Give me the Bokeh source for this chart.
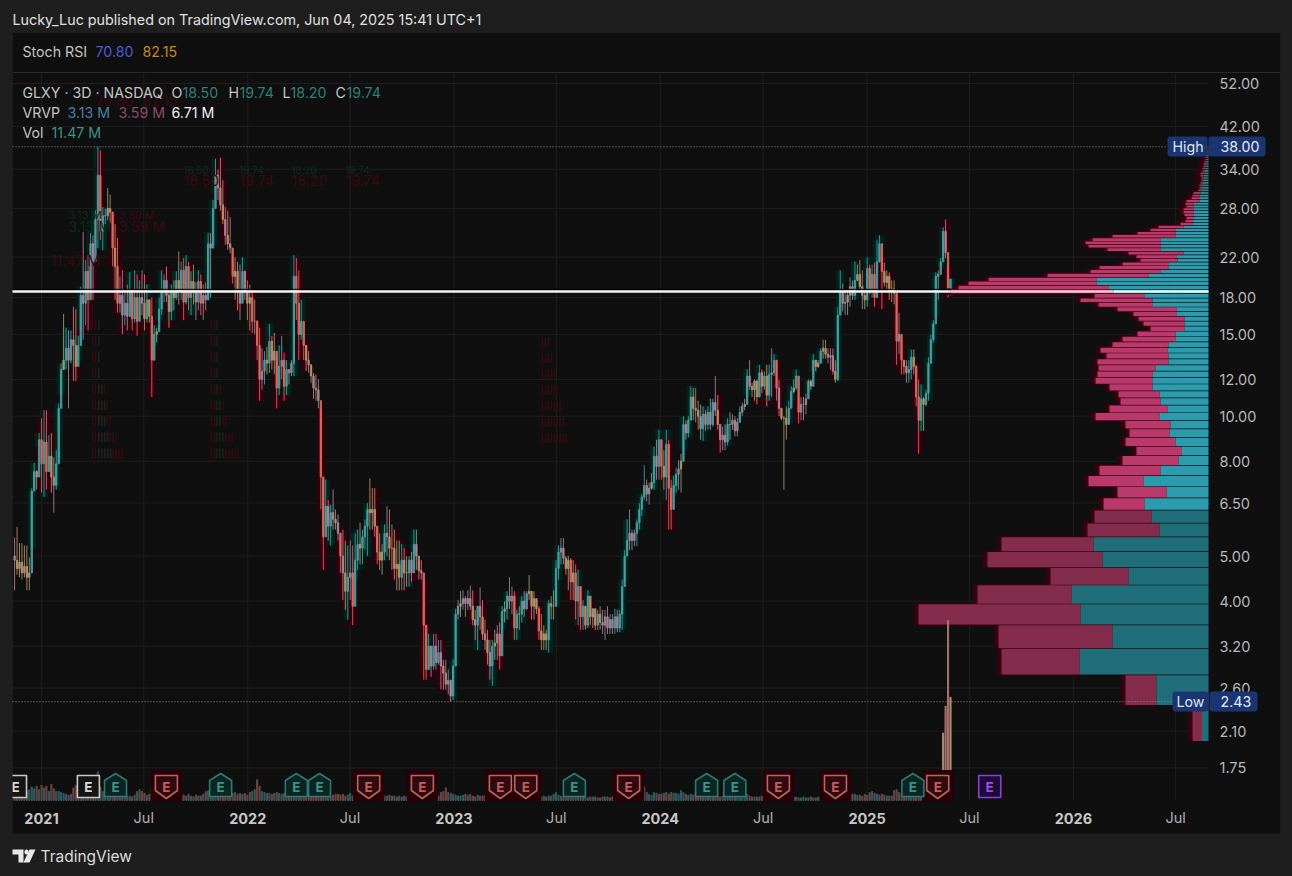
import math
import pandas as pd
from bokeh.plotting import figure
from bokeh.models import (Range1d, LinearScale, LinearAxis, FixedTicker, PrintfTickFormatter, Label,
                          BoxAnnotation, PolyAnnotation, ColumnDataSource)
from bokeh.core.properties import value
from bokeh.embed import file_html
from bokeh.resources import INLINE

FONT = "Inter"
high = [5.48,5.78,5.33,5.33,5.27,5.27,4.97,7.0,7.93,7.65,9.2,9.9,10.3,10.3,9.1,9.2,8.15,8.45,10.65,13.0,
16.6,15.5,15.3,15.3,17.2,17.0,14.9,19.0,24.9,21.7,22.2,24.8,24.5,27.7,38.0,37.3,28.2,28.0,31.0,30.0,
27.4,25.9,24.2,20.0,20.6,18.7,19.2,20.4,18.7,20.6,20.2,19.6,20.6,20.2,19.2,17.8,18.0,15.7,15.5,18.0,
20.6,20.2,21,18.7,19.2,19.6,20.5,22.6,21.5,21.9,22.2,21.5,20.5,21.2,19.4,20.6,20.2,19.2,19.4,24.8,
24.8,29.2,35.8,34,36,32.2,28.2,27.7,26.8,22.2,22,21.5,21.2,22,20.6,19.6,19.2,18.7,17.8,16.1,
15.5,14.0,13.8,14.1,15.8,14.9,15.1,13.4,14.2,14.9,13.7,13.2,12.4,13.2,22.2,21.9,20.6,17.8,14.6,14.2,
13.8,12.9,12.4,12.3,12,10.4,7.3,7.3,6.6,6.45,6.95,6.3,6.15,5.5,5.7,5.4,5.27,5.4,5.27,5.6,
5.7,5.9,5.7,6,6.5,7.35,7,7,5.7,5.6,5.3,5.85,6.4,6.3,5.85,5.7,5.4,5.4,5.3,5.2,
5,5,5.1,5.7,5.7,4.9,4.9,4.45,3.55,3.4,3.1,3.4,3.4,3.3,3.3,2.99,2.99,2.85,2.71,3,
3.85,4.02,4.2,4.22,4.1,4.22,4.32,4.22,3.83,3.9,4.28,4.02,3.65,3.47,3.3,3.3,3.47,3.55,3.6,3.9,
4,4.2,4.5,4.3,4.2,3.83,3.9,4.1,4.2,4.2,4.55,4.2,4.2,4.02,3.9,3.75,3.55,3.47,4.02,4.1,
4.22,4.9,5.27,5.47,5.47,5,5,4.95,4.9,4.8,4.67,4.22,4.02,3.83,4.22,4.02,3.75,3.8,3.83,3.9,
3.83,3.83,3.9,3.75,3.75,3.85,3.83,3.83,4.45,5.15,6,6.3,5.7,5.7,6,6.5,6.8,7.85,7.3,7.2,
7.55,8.6,8.9,9.35,8.6,8.45,9.35,8.9,7.3,7.45,7.75,8.05,8.3,10,9.8,10,11.6,11.5,11.5,10.8,
10.6,10.5,10.3,10.5,10.9,10.9,12.2,11.1,9.4,9.5,9.6,9.9,10.2,10.1,10,9.9,10.5,10.7,10.9,12.6,
13.2,11.8,12,12,12.9,12.6,12.5,12.9,12.9,14,13.6,13.2,12,10,10,10.5,10.8,11.6,12,12.6,
11,11,11,11.2,12,12,13.6,13.2,13.2,14,14.6,14.6,14,14,14,13.2,17.2,20.6,19.3,18.7,
18.7,19.9,19.6,21.5,21.2,21.7,20.6,18.7,22,21.2,21.2,21.4,23.9,24.5,22.4,21.4,20.6,20.4,19.6,19.6,
18.3,16.7,14.6,13.2,13.2,13.2,13.9,13.9,12.9,12,11.7,11,11.4,13.4,15,16.1,20.4,20.6,21.9,25.5,
26.5,20.9,19.74]
low = [4.22,4.56,4.5,4.45,4.5,4.22,4.22,5.22,7.05,6.95,8.6,6.85,6.7,6.95,7.65,6.85,6.2,6.95,7.95,11.1,
12.6,12.6,10.4,13.0,11.9,11.9,13.2,15.3,14.6,15.7,15.3,19.3,17.8,23.0,23.0,23.9,22.8,25.9,26.4,26.0,
21.0,17.8,16.7,16.7,15.0,15.7,15.3,16.9,15.3,15.9,14.9,16.1,16.5,15.3,15.9,15.9,11.0,14.2,14.4,16.1,
16.5,17.6,17.6,15.5,16.1,16.9,17.8,17.4,17.8,16.1,17.4,16.9,16.5,17.4,16.1,16.9,16.5,16.1,16.9,17.8,
18,23.4,30,29.2,27.7,25.9,23.4,22.8,22.4,19.3,17.8,16.9,16.1,17.8,17.8,16.1,15.3,15.1,15,13.2,
10.8,11.4,11.7,12.3,12.4,12.6,12.3,10.4,11.1,12.0,10.8,11.1,11.7,12.2,12.2,16.1,13.2,14.6,13.2,12.5,
12.4,11.8,10.9,10.8,10.4,6.3,4.67,5.7,5.4,5.27,5.7,5.7,5.4,4.6,4.02,3.83,3.65,4.02,3.55,4.45,
4.67,4.8,4.8,5.15,5,5.7,5.7,5.5,4.8,4.67,4.56,4.9,5,4.9,4.67,4.45,4.22,4.22,4.22,4.22,
4.3,4.3,4.4,4.67,4.67,4.45,4.45,2.71,2.71,2.85,2.75,2.85,2.85,2.92,2.58,2.58,2.58,2.52,2.43,2.45,
2.92,3.65,3.7,3.83,3.7,3.83,3.83,3.55,3.3,3.14,3.47,3.3,3.14,2.92,2.71,2.63,2.99,2.99,2.85,3.47,
3.6,3.65,3.85,3.75,3.3,3.3,3.47,3.6,3.7,3.83,4.02,3.65,3.65,3.75,3.3,3.14,3.14,3.14,3.1,3.65,
3.65,3.9,4.45,4.8,4.8,4.56,4.22,4.02,4.02,3.65,3.55,3.47,3.47,3.47,3.5,3.55,3.5,3.47,3.47,3.47,
3.4,3.3,3.4,3.4,3.4,3.4,3.43,3.43,3.47,4.4,5.15,5.15,5.15,5.25,5.25,5.7,6.1,6.6,6.55,6.45,
6.95,6.95,7.3,7.3,7.3,6.95,6.6,5.7,5.7,6.8,6.85,6.95,6.85,8.45,8.9,9,10,9.8,9.7,9.35,
8.9,8.85,9.3,9.35,9.35,9.5,10,9.35,8.35,8.45,8.45,8.65,8.9,9.35,9.05,9.05,9.8,10,10.3,11.1,
11.4,11,10.8,10.6,11,11.2,11.4,10.5,10.8,11,12.2,10.8,10,9.8,6.95,8.9,9.65,10.8,11.2,11.4,
9.65,9.8,9.8,10.1,11.3,11.4,12.4,12.5,12.7,13,13.3,13.3,13,12.6,12.3,11.8,11.9,17.2,16.8,16.5,
16.5,17.2,17.8,17.8,19.6,18.7,17,17,17.2,18.3,18,17.2,19.6,21.4,17,19,18.7,17.8,17.6,17.4,
12.9,13.6,12.3,12.3,11.8,11.8,12,12.3,10.5,8.3,9.3,9.3,10.5,10.8,13,14.4,16.3,17.8,21,21.8,
21.9,18.0,18.2]
close = [4.9,4.7,4.85,4.6,4.75,4.5,4.6,6.9,7.6,7.4,8.9,7.9,8.8,7.6,8.2,7.4,7.1,7.9,10.4,12.6,
13.2,14.0,13.2,14.6,14.2,12.8,14.2,18.2,17.5,20.5,17.8,23.5,21.5,26.5,33.0,25.0,27.0,27.0,28.0,27.5,
23,21,17.5,18.2,16.5,17.5,16.4,18.7,16.2,18.0,16.0,18.0,17.5,16.2,17.8,16.4,13.2,15.0,15.2,17.0,
18.5,19.6,18.2,16.8,18.6,18.0,19.6,18.5,20.6,17.6,21.0,18.0,19.5,18.6,17.6,19.5,17.5,18.2,17.8,23.5,
23,28,33,31,28.5,26.5,24.5,23.5,23,20,20.5,18.5,17.5,20.5,18.5,17.5,18,16,16,14.2,
12,12.5,13.2,13,14.5,13.2,13.8,11.5,12.8,13.2,11.6,12.6,12.4,13,20,17.5,15,16,14.2,13.2,
12.9,12.2,11.5,11.4,10.8,7.4,5.5,6.4,5.8,6.2,6.0,5.9,5.6,5.0,4.6,4.2,4.5,4.6,3.9,4.9,
5.3,5.2,5.5,5.8,6.3,6.2,6.3,5.8,5.1,4.9,5.1,5.6,5.5,5.2,5.2,4.7,4.8,4.5,4.9,4.6,
4.6,4.9,4.6,5.3,5,4.65,4.6,3.55,2.85,3.2,2.9,3.2,2.95,3.1,2.9,2.8,2.65,2.7,2.5,2.9,
3.75,3.9,3.95,4.05,3.95,4.05,3.9,3.65,3.55,3.9,3.7,3.4,3.3,3.1,2.9,3.2,3.25,3.4,3.05,3.8,
3.85,4.1,4.0,4.1,3.5,3.75,3.75,4.0,3.85,4.15,4.2,3.9,4.05,3.85,3.45,3.3,3.4,3.3,3.95,3.9,
3.9,4.7,5.1,5.2,4.95,4.7,4.9,4.4,4.6,4.0,4.3,3.7,3.9,3.55,4.1,3.7,3.85,3.55,3.75,3.6,
3.55,3.7,3.5,3.65,3.5,3.7,3.5,3.75,4.3,5.0,5.4,5.6,5.4,5.6,5.9,6.3,6.7,7.1,6.8,7.0,
7.2,8.2,7.8,8.9,7.8,7.4,8.7,7.0,6.3,7.1,7.5,7.7,8.0,9.6,9.2,9.8,11,10.4,10.3,10,
9.4,10.1,9.6,10.2,9.6,10.7,10.3,9.6,8.9,9.1,8.8,9.6,9.6,9.8,9.3,9.7,10.2,10.5,10.6,12.2,
11.6,11.4,11.9,11,12.4,11.6,12.2,11.1,12.3,12.4,13.2,11.5,10.4,9.9,9.9,9.6,10.4,11.3,11.5,12.2,
10.2,10.6,10.6,10.9,11.9,11.6,13.2,12.8,13,13.8,14,13.6,13.4,13.5,12.5,12.0,16.5,18.5,17.5,17.6,
18.2,19,18.2,19.6,20.2,19,18.2,17.8,20.8,18.6,20.2,18,21.5,23.5,20.5,19.4,20,18.6,18.8,18.4,
14.5,15,13.2,12.8,12.4,12.6,13.4,12.8,11,9.8,10.9,10.6,11.2,13,14.6,15.8,20,20.2,21.5,25,
22.5,18.5,19.74]
volume = [.6,.7,.6,.5,.8,1.0,1.2,1.5,1.3,1.6,1.2,1.7,1.4,1.6,1.0,1.8,1.3,1.0,1.0,0.9,
.8,.7,.6,.7,1.4,1.7,1.3,1.1,1.7,1.6,1.5,1.3,1.0,1.2,3.2,1.5,1.0,.9,.8,.6,
.8,.7,.6,.6,.7,.6,.5,.5,.4,.6,1.0,1.2,1.0,.8,.6,.7,1.3,.9,.7,.9,
1.0,.6,.5,.7,.6,.5,.5,.4,.4,.6,.5,.7,.5,.4,.6,.5,.5,.7,1.0,1.1,
1.2,.8,1.0,1.4,1.3,1.2,1.0,.9,.8,.8,.9,.7,.8,.7,.8,.6,.9,1.0,1.2,2.3,
1.6,1.0,.9,.8,.8,.7,.8,.9,.8,.7,.8,.8,.6,.8,.7,1.0,.8,.7,.6,.6,
.8,.6,.6,.7,.8,1.6,.9,.8,.6,.5,.6,.7,.7,.6,.7,.5,.6,.8,.5,.6,
.4,.5,.5,.4,.5,.4,.5,.8,.5,.5,.4,.5,.5,.6,.5,.5,.4,.5,.4,.5,
.4,.5,.4,.5,.6,.5,.5,.9,.7,.6,.5,.5,.6,.5,.9,1.0,1.4,.9,.8,.7,
.6,.5,.5,.6,.7,.6,.7,.5,.4,.6,.5,.5,.6,.5,.4,.5,.5,.4,.5,.6,
.5,.4,.5,.4,.5,.4,.4,.4,.5,.4,.6,.4,.4,.4,.5,.4,.5,.4,.5,.5,
.7,.9,.6,.5,.4,.4,.5,.4,.4,.5,.4,.4,.4,.4,.3,.4,.4,.4,.3,.3,
.4,.4,.4,.3,.4,.3,.4,.8,.7,.9,.6,.5,.4,.5,.4,.5,.5,1.5,.9,.7,
.6,.9,.8,.7,.7,.8,.9,.7,.9,.8,.8,.7,1.1,.9,.7,.6,.7,.6,.8,.8,
.7,.6,.6,.7,.7,.5,.6,.5,.4,.5,.4,.5,.4,.5,.4,.5,.4,.5,.5,.7,
.5,.4,.4,.4,.4,.5,.5,.4,.4,.5,.4,.4,.5,.5,.7,.5,.4,.4,.4,.4,
.3,.3,.4,.3,.3,.4,.3,.3,.4,.3,.4,.3,.4,.4,.4,.5,.9,.9,.8,.7,
.8,.8,.7,.7,.6,.6,.5,.7,.6,.9,1.0,.8,.7,.6,.7,.6,.5,.5,.5,1.1,
1.2,.9,.7,1.0,.6,.5,.6,.4,.5,.5,.7,.5,.4,.5,.4,.5,.6,.7,2.0,7.5,
10.5,20.0,11.47]
vp_up = [6.5,52,129,96,128,137,80,106,115,49,57,64,42,65,48,30,27,33,39,38,49,41,48,49,56,56,56,53,40,40,41,40,33,33,24,24,24,32,32,56,56,64,95,100,112,112,60,48,40,40,31,32,25,48,48,48,48,33,33,33,25,16,16,15,15,15,15,15,15,9,9,9,8,8,7,7,6,6,5,5,4,4,3,2,2,2,2,1,1,1,1,1,1]
vp_total = [16,83,207,210,290,231,158,221,207,121,114,105,91,120,109,86,72,83,79,83,113,99,88,90,99,113,111,110,111,102,108,96,86,71,58,65,70,75,91,110,128,114,258,250,240,220,161,118,109,86,68,72,80,101,120,123,116,96,71,58,50,28,23,22,24,25,25,22,23,22,17,16,15,10,9,9,8,7,7,8,8,6,6,5,5,4,3,3,2,2,2,1,1]
vp_first_price = 2.0
vp_step = 0.39
x_labels_jul = ["2021-07-01","2022-07-01","2023-07-01","2024-07-01","2025-07-01","2026-07-01"]
x_labels_year = ["2021-01-01","2022-01-01","2023-01-01","2024-01-01","2025-01-01","2026-01-01"]
y_ticks = [52,42,34,28,22,18,15,12,10,8,6.5,5,4,3.2,2.6,2.1,1.75]
earn_dates = ["2020-11-16","2021-03-25","2021-05-12","2021-08-10","2021-11-14","2022-03-28","2022-05-08","2022-08-03","2022-11-06","2023-03-24","2023-05-08","2023-08-02","2023-11-06","2024-03-23","2024-05-12","2024-07-28","2024-11-06","2025-03-23","2025-05-06","2025-08-06"]
earn_kind = ["w","w","u","d","u","u","u","d","d","d","d","u","d","u","u","d","d","u","d","p"]

BG, PANE, EDGE = "#1e1e1e", "#0f0f0f", "#2a2a2a"
KY = 201.8
MPP = 365.25 * 86400000 / 206.4
T0 = pd.Timestamp("2021-01-01").value / 1e6
def ms(s): return pd.Timestamp(s).value / 1e6
def X(px): return T0 + (px - 41) * MPP
def Y(py): return 52 * math.exp(-(py - 83) / KY)
def V(py): return (800 - py) / 9

p = figure(width=1292, height=876, output_backend="svg", toolbar_location=None,
           x_range=Range1d(X(0), X(1292)), y_range=Range1d(Y(876), Y(0)),
           y_axis_type="log", y_axis_location="right",
           min_border=0, background_fill_color=BG, border_fill_color=BG, outline_line_color=None)
p.extra_y_ranges = {"vol": Range1d(V(876), V(0))}
p.extra_y_scales = {"vol": LinearScale()}
p.extra_x_ranges = {"vp": Range1d(1208, -84)}
p.xgrid[0].visible = False; p.ygrid[0].visible = False

p.add_layout(BoxAnnotation(left=X(12), right=X(1280), top=Y(32), bottom=Y(833.5), fill_color=PANE, fill_alpha=1,
                           line_color=EDGE, line_width=1, level="image"))
p.add_layout(BoxAnnotation(left=X(12), right=X(1280), top=Y(71.6), bottom=Y(72.6), fill_color=EDGE, fill_alpha=1,
                           line_alpha=0, level="image"))

# axes, fixed on the edges of the price pane
yax = p.yaxis[0]
yax.fixed_location = X(1208)
yax.ticker = FixedTicker(ticks=y_ticks)
yax.formatter = PrintfTickFormatter(format="%.2f")
yax.axis_line_color = None; yax.major_tick_line_color = None; yax.minor_tick_line_color = None
yax.major_label_text_color = "#b8b8b8"; yax.major_label_text_font = FONT
yax.major_label_text_font_size = "14.5px"; yax.major_label_standoff = 5
xax = p.xaxis[0]
jul = [ms(d) for d in x_labels_jul]; yrs = [ms(d) for d in x_labels_year]
xax.ticker = FixedTicker(ticks=jul)
xax.major_label_overrides = {t: "Jul" for t in jul}
yax2 = LinearAxis(ticker=FixedTicker(ticks=yrs), major_label_overrides={t: d[:4] for t, d in zip(yrs, x_labels_year)})
p.add_layout(yax2, "below")
for a, bold, off in [(xax, False, 2), (yax2, True, 6)]:
    a.fixed_location = Y(800)
    a.axis_line_color = None; a.major_tick_line_color = None; a.minor_tick_line_color = None
    a.major_label_text_color = "#c8c8c8" if bold else "#b0b0b0"; a.major_label_text_font = FONT
    a.major_label_text_font_size = "14.5px"
    a.major_label_text_font_style = "bold" if bold else "normal"
    a.major_label_standoff = off

# grid lines, limited to the price pane
GRID = "#1e1e1e"
gx = sorted(jul + yrs)
p.segment(gx, [Y(800)] * len(gx), gx, [Y(72)] * len(gx), line_color=GRID, line_width=1)
p.segment([X(12)] * len(y_ticks), y_ticks, [X(1208)] * len(y_ticks), y_ticks, line_color=GRID, line_width=1)

# price bars
N = len(close)
BAR = 2.45 * MPP
last_t = X(950)
xs = [last_t - (N - 1 - i) * BAR for i in range(N)]
opn = [5.0] + close[:-1]
col, halo, vcol = [], [], []
for i, (o, c) in enumerate(zip(opn, close)):
    pct = abs(c - o) / o
    big = volume[i] > 5
    if c >= o:
        col.append("#4a9fa2" if pct > .05 else ("#8f8ca0" if i % 2 else "#98a07f"))
        halo.append("#00241e" if pct > .06 else None)
        vcol.append("#a9906e" if big else "#2f5c62")
    else:
        col.append("#dc6a60" if pct > .1 else ("#c08e62" if i % 2 else "#ad8599"))
        halo.append("#33000e" if pct > .06 else None)
        vcol.append("#a8736a" if big else "#6e4442")
hs = ColumnDataSource(dict(x=[x for x, h in zip(xs, halo) if h], t=[v for v, h in zip(high, halo) if h],
                           b=[v for v, h in zip(low, halo) if h], c=[h for h in halo if h]))
p.vbar(x="x", top="t", bottom="b", width=BAR * 3, color="c", source=hs)
src = ColumnDataSource(dict(x=xs, h=high, l=low, o=opn, c=close, col=col, v=volume, vc=vcol))
p.segment(x0="x", x1="x", y0="l", y1="h", line_color="col", line_width=1, line_alpha=.85, source=src)
p.vbar(x="x", top="o", bottom="c", width=BAR * .55, color="col", alpha=.9, source=src)

# volume profile
b, t = [], []
for k in range(len(vp_up)):
    b.append(vp_first_price + vp_step * k); t.append((vp_first_price + vp_step * (k + 1)) * math.exp(-.7 / KY))
def tone(bb, dim, mid, top):
    return dim if bb < 6.2 else (top if bb > 30 else mid)
p.quad(left=[v + 4 for v in vp_total], right=vp_up, top=[v * 1.004 for v in t], bottom=[v * .996 for v in b],
       x_range_name="vp", color="#38000f")
p.quad(left=vp_total, right=vp_up, top=t, bottom=b, x_range_name="vp", line_width=0,
       color=[tone(q, "#832c4c", "#b93a6a", "#7c4a62") for q in b])
p.quad(left=vp_up, right=[0] * len(vp_up), top=t, bottom=b, x_range_name="vp", line_width=0,
       color=[tone(q, "#1f6e7a", "#2c9bae", "#3f7a85") for q in b])

# volume
p.vbar(x="x", top="v", bottom=0, width=BAR * .45, color="vc", source=src, y_range_name="vol")

# high / low / level lines
for price, right in [(38.0, 1167), (2.43, 1172)]:
    p.line([X(12), X(right)], [price, price], line_color="#8a8a8a", line_width=1, line_dash="1 2")
p.line([X(12), X(950)], [Y(288.8)] * 2, line_color="#000000", line_width=1)
for l, r, c in [(12, 950, "#f4f4f4"), (950, 1113, "#f7c6d8"), (1113, 1208, "#e2fbf4")]:
    p.line([X(l), X(r)], [18.55, 18.55], line_color=c, line_width=2.5)

# earnings markers
SH = {"u": [(-11,796),(-11,780),(0,773),(11,780),(11,796)], "d": [(-11,775),(11,775),(11,790),(0,798),(-11,790)],
      "w": [(-11,775),(11,775),(11,797),(-11,797)], "p": [(-11,775),(11,775),(11,797),(-11,797)]}
ST = {"u": ("#2d7a75","#0a2422","#3b938b"), "d": ("#b5685c","#300a12","#c25f55"),
      "w": ("#c9c9c9","#141414","#d8d8d8"), "p": ("#8c3fe0","#1d0c33","#a24be6")}
ed = [ms(d) for d in earn_dates]
hx = [[t0 + dx * MPP for dx in (-15, 15, 15, -15)] for t0, k in zip(ed, earn_kind) if k == "d"]
hy = [[V(770), V(770), V(800), V(800)] for k in earn_kind if k == "d"]
p.patches(hx, hy, color="#2a0008", y_range_name="vol")
p.patches([[t0 + a * MPP for a, _ in SH[k]] for t0, k in zip(ed, earn_kind)],
          [[V(c) for _, c in SH[k]] for k in earn_kind],
          fill_color=[ST[k][1] for k in earn_kind], line_color=[ST[k][0] for k in earn_kind],
          line_width=1.6, line_join="round", y_range_name="vol")
p.text(ed, [V(786)] * len(ed), text=["E"] * len(ed), text_color=[ST[k][2] for k in earn_kind],
       text_font=value(FONT), text_font_style="bold", text_font_size="13.5px", text_align="center",
       text_baseline="middle", y_range_name="vol")
p.add_layout(BoxAnnotation(left=X(0), right=X(12), top=Y(765), bottom=Y(805), fill_color=BG, fill_alpha=1, line_alpha=0))

def lab(text, px, py, color, size=14.2, bold=False, align="left"):
    p.add_layout(Label(x=X(px), y=Y(py), text=text, text_color=color, text_font=FONT, text_font_size=f"{size}px",
                       text_font_style="bold" if bold else "normal", text_align=align, text_baseline="middle"))

# ghost text
GR, GG = "#3a0a14", "#0a2c20"
for s, px in [("18.50",183),("19.74",239),("18.20",291),("19.74",345)]:
    lab(s, px, 180, GR)
    lab(s, px, 169, GG, 10)
lab("3.13 M", 68, 226, GG); lab("3.59 M", 118, 226, GR); lab("3.13 M", 68, 214, GG, 11); lab("3.59 M", 118, 214, GR, 11)
lab("11.47 M", 50, 260, GR); lab("70.80", 95, 100, GR); lab("82.15", 142, 100, GR)
for r, n in enumerate([1,2,2,3,3,5,6,7,9,11]):
    yy = 308 + 16 * r
    lab("|" * n, 90, yy, GR, 8, True)
    lab("|" * (n // 2), 97, yy, GG, 8, True)
    if r >= 1:
        lab("|" * max(n - 1, 2), 209, yy, GR, 8, True)
        lab("|" * max(n // 3, 1), 215, yy, GG, 8, True)
    if r >= 3:
        lab("|" * r, 540, yy - 15, GR, 8, True)

# legend texts
lab("Lucky_Luc published on TradingView.com, Jun 04, 2025 15:41 UTC+1", 12, 18.5, "#e0e0e0", 14.33)
lab("Stoch RSI", 22, 51, "#c4c4c4"); lab("70.80", 95, 51, "#4a5bd6"); lab("82.15", 142, 51, "#c58a1e")
lab("GLXY · 3D · NASDAQ", 22, 92, "#c4c4c4")
for s, px, s2, px2 in [("O",171,"18.50",182),("H",228,"19.74",239),("L",282,"18.20",290),("C",335,"19.74",346)]:
    lab(s, px, 92, "#c4c4c4"); lab(s2, px2, 92, "#2f7f78")
lab("VRVP", 22, 112, "#c4c4c4"); lab("3.13 M", 67, 112, "#4a7fa3"); lab("3.59 M", 118, 112, "#8f4a68"); lab("6.71 M", 171, 112, "#f0f0f0")
lab("Vol", 22, 132, "#c4c4c4"); lab("11.47 M", 51, 132, "#3f8f8a")

# high / low tags
for l, r, py in [(1167,1207,146),(1208,1265,146),(1172,1208,701),(1209,1257,701)]:
    p.add_layout(BoxAnnotation(left=X(l), right=X(r), top=Y(py - 10), bottom=Y(py + 10), fill_color="#1b3572",
                               fill_alpha=1, line_alpha=0, border_radius=3, level="annotation"))
lab("High", 1172, 145.5, "#dfe6f5"); lab("38.00", 1220, 145.5, "#e8ecf5")
lab("Low", 1176, 700.5, "#dfe6f5"); lab("2.43", 1220, 700.5, "#e8ecf5")

# brand
LOGO = "#e8e8e8"
p.add_layout(PolyAnnotation(xs=[X(12),X(23),X(23),X(18),X(18),X(12)], ys=[Y(849),Y(849),Y(862),Y(862),Y(854),Y(854)],
                            fill_color=LOGO, fill_alpha=1, line_alpha=0))
p.add_layout(PolyAnnotation(xs=[X(29),X(35),X(29),X(23)], ys=[Y(849),Y(849),Y(862),Y(862)],
                            fill_color=LOGO, fill_alpha=1, line_alpha=0))
p.add_layout(BoxAnnotation(left=X(24), right=X(28), top=Y(849), bottom=Y(854), fill_color=LOGO, fill_alpha=1, line_alpha=0, border_radius=2))
lab("TradingView", 40, 856, "#dcdcdc", 15.5)

html = file_html(p, INLINE)
html = html.replace("</head>", "<style>html,body{margin:0;padding:0;background:#1e1e1e;overflow:hidden}</style></head>")
open("out.html", "w").write(html)
